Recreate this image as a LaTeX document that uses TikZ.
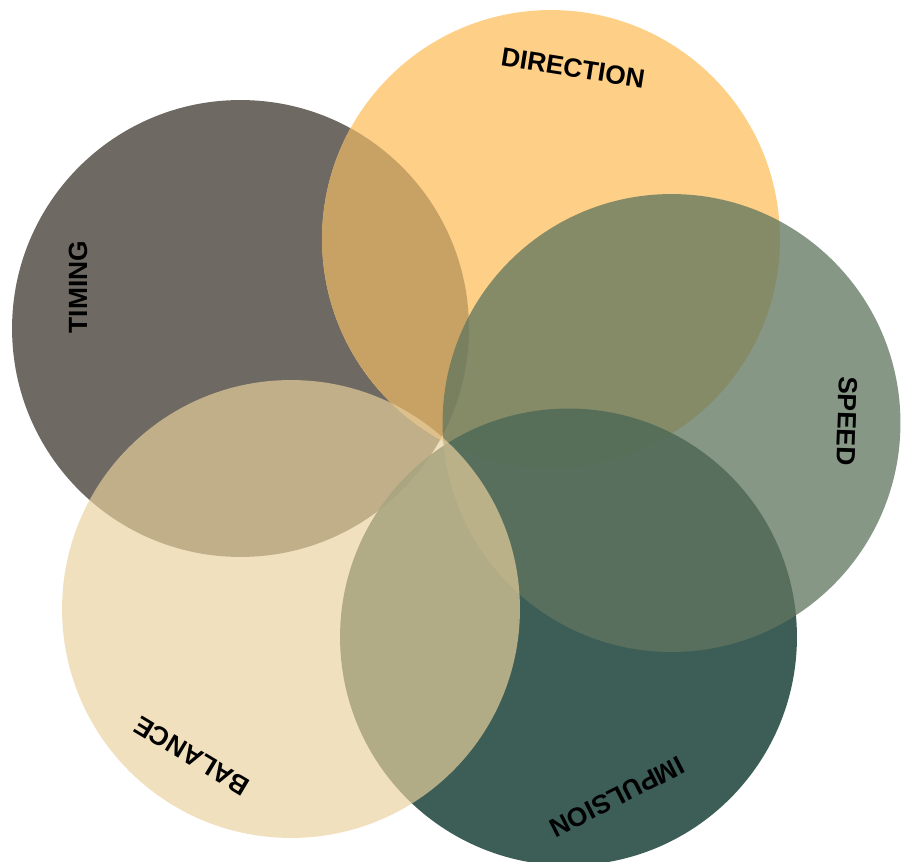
\documentclass[tikz,border=0pt]{standalone}
\usepackage{fontspec}
\setmainfont{Liberation Sans}
\definecolor{timingc}{RGB}{110,106,99}
\definecolor{directionc}{RGB}{253,207,135}
\definecolor{dirtimc}{RGB}{200,162,100}
\definecolor{impulsionc}{RGB}{40,76,69}
\definecolor{speedc}{RGB}{96,118,94}
\definecolor{balancec}{RGB}{234,209,158}
\begin{document}
\begin{tikzpicture}[x=0.02cm,y=-0.02cm,
    lbl/.style={font=\bfseries\fontsize{15}{15}\selectfont}]
      \useasboundingbox (0,0) rectangle (908,861);
      % circles, back to front
      \fill[timingc] (240.5,328.5) circle[radius=4.57cm];
      \fill[directionc] (551,239) circle[radius=4.58cm];
      \begin{scope}
        \clip (240.5,328.5) circle[radius=4.57cm];
        \fill[dirtimc] (551,239) circle[radius=4.58cm];
      \end{scope}
      \fill[impulsionc,opacity=0.9] (568.5,637) circle[radius=4.57cm];
      \fill[speedc,opacity=0.76] (671.5,423) circle[radius=4.58cm];
      \fill[balancec,opacity=0.67] (291,609) circle[radius=4.58cm];
      % labels
      \node[lbl,rotate=-9] (direction) at (573,68) {DIRECTION};
      \node[lbl,rotate=90] (timing) at (78,287) {TIMING};
      \node[lbl,rotate=-92] (speed) at (847,421) {SPEED};
      \node[lbl,rotate=207] (impulsion) at (617,797) {IMPULSION};
      \node[lbl,rotate=149] (balance) at (192,756) {BALANCE};
\end{tikzpicture}
\end{document}
